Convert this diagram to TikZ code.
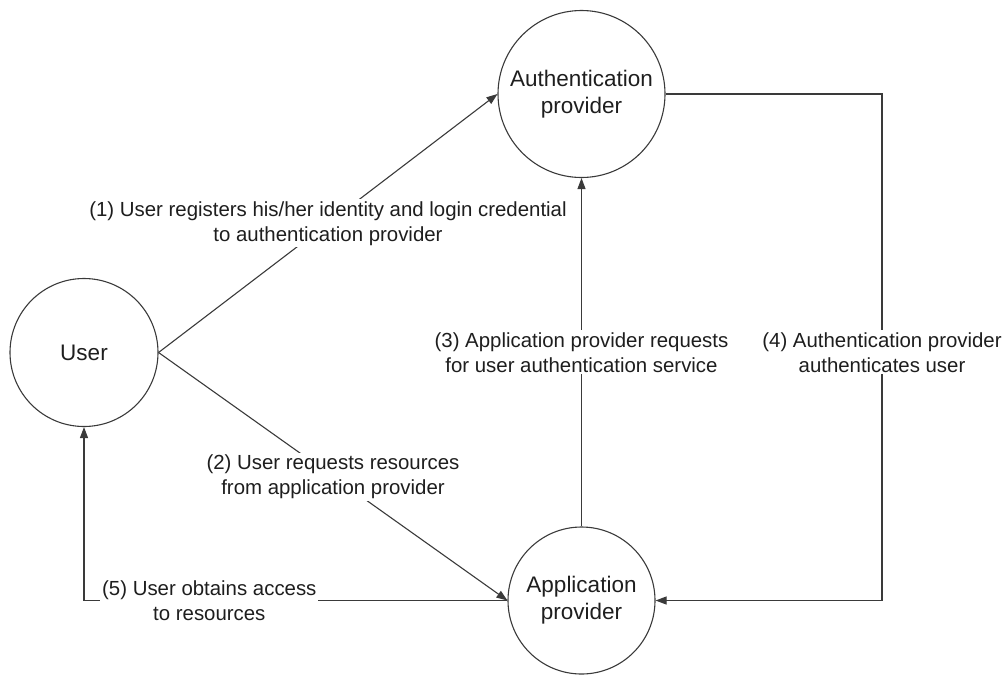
\documentclass[tikz,border=0pt]{standalone}
\usepackage{fontspec}
\setmainfont{Liberation Sans}
\usetikzlibrary{arrows.meta}
\definecolor{ln}{HTML}{3A3A3A}
\definecolor{tx}{HTML}{1E1E1E}
\begin{document}
\begin{tikzpicture}[x=1pt,y=-1pt,
  ent/.style={circle,draw=ln,line width=1.1pt,inner sep=0pt,align=center,text=tx,font=\fontsize{22.5}{27}\selectfont},
  lbl/.style={fill=white,inner sep=2pt,align=center,text=tx,font=\fontsize{20.4}{25}\selectfont},
  conn/.style={draw=ln,line width=1.1pt},
  arr/.style={conn,-{Triangle[length=11pt,width=8pt]}}
]
\useasboundingbox (0,0) rectangle (1008,675);
\node[ent,minimum size=148pt] (user) at (84,352.5) {User};
\node[ent,minimum size=167pt] (auth) at (581.5,94) {Authentication\\provider};
\node[ent,minimum size=147pt] (app) at (581.5,600.5) {Application\\provider};

\draw[arr] (user.east) -- node[lbl]{(1) User registers his/her identity and login credential\\to authentication provider} (auth.west);
\draw[arr] (user.east) -- node[lbl]{(2) User requests resources\\from application provider} (app.west);
\draw[arr] (app.north) -- node[lbl]{(3) Application provider requests\\for user authentication service} (auth.south);
\coordinate (c4a) at (882,94);
\coordinate (c4b) at (882,600.5);
\draw[arr] (auth.east) -- (c4a) -- node[lbl,pos=0.51]{(4) Authentication provider\\authenticates user} (c4b) -- (app.east);
\coordinate (c5) at (84,600.5);
\draw[arr] (app.west) -- node[lbl,pos=0.704]{(5) User obtains access\\to resources} (c5) -- (user.south);
\end{tikzpicture}
\end{document}
